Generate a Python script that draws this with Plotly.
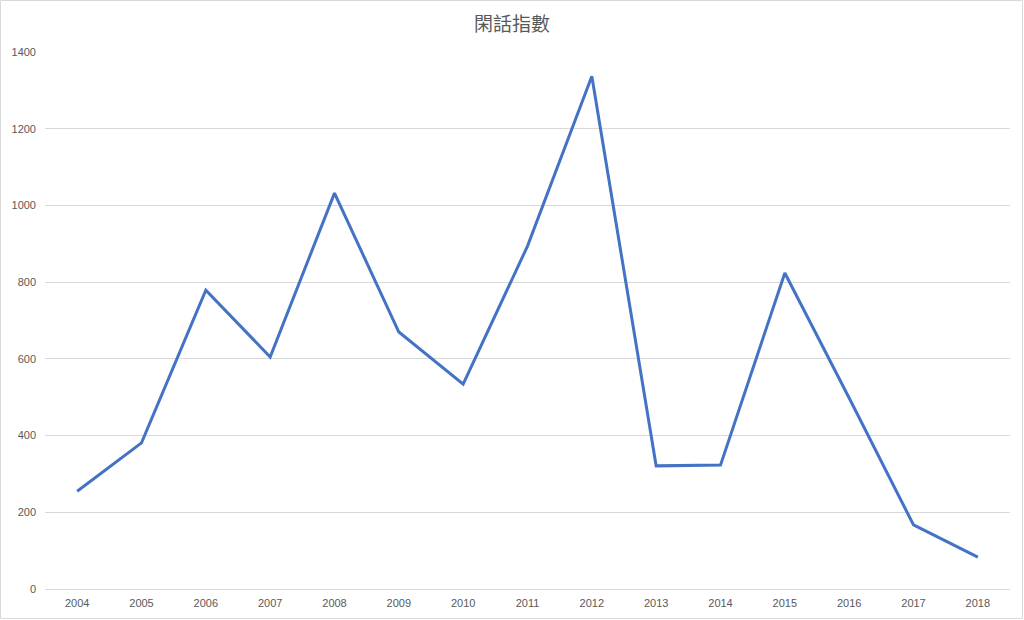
import plotly.graph_objects as go

years = ["2004", "2005", "2006", "2007", "2008", "2009", "2010", "2011",
         "2012", "2013", "2014", "2015", "2016", "2017", "2018"]
values = [255, 381, 779, 605, 1032, 670, 534, 894, 1337, 321, 323, 824, 498, 167, 83]
title_text = "閑話指數"

W, H = 1024, 620
ml, mr, mt, mb = 45, 14, 52, 31
pw, ph = W - ml - mr, H - mt - mb

fig = go.Figure()
fig.add_trace(go.Scatter(
    x=years, y=values, mode="lines",
    line=dict(color="#4472C4", width=3),
    hoverinfo="x+y", showlegend=False,
))

def px_x(p):
    return (p - ml) / pw

def px_y(p):
    return 1 - (p - mt) / ph

fig.update_layout(
    width=W, height=H,
    margin=dict(l=ml, r=mr, t=mt, b=mb),
    paper_bgcolor="white", plot_bgcolor="white",
    title=dict(text=title_text, x=0.5, xanchor="center", y=1 - 24 / H, yanchor="middle",
               font=dict(family="Noto Sans CJK TC", size=19, color="#595959")),
    xaxis=dict(type="category", range=[-0.5, 14.5], showgrid=False, zeroline=False,
               showline=False, ticks="", tickfont=dict(family="Liberation Sans", size=11, color="#595959"),
               ticklabelstandoff=6),
    yaxis=dict(range=[0, 1400], dtick=200, showgrid=True, gridcolor="#D9D9D9", gridwidth=1,
               zeroline=True, zerolinecolor="#D9D9D9", zerolinewidth=1, showline=False, ticks="",
               tickfont=dict(family="Liberation Sans", size=11, color="#595959"), ticklabelstandoff=8),
    shapes=[dict(type="rect", xref="paper", yref="paper",
                 x0=px_x(0.5), x1=px_x(1022.5), y0=px_y(618.5), y1=px_y(0.5),
                 line=dict(color="#D9D9D9", width=1), layer="below")],
)

fig.write_html("out.html", config={"displayModeBar": False},
               post_script="document.body.style.margin='0';document.body.style.overflow='hidden';")
